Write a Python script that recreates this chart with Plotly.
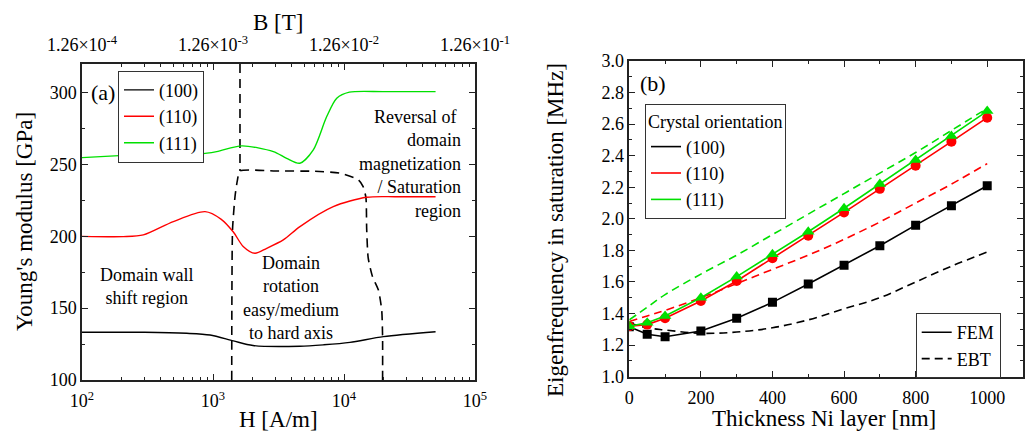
import plotly.graph_objects as go

# ---------------- Panel (a) data ----------------
H_100 = [100, 300, 630, 950, 1430, 2020, 4600, 7000, 11100, 20000, 50000]
E_100 = [133.2, 133.2, 132.5, 131.3, 127.2, 124.0, 123.5, 124.5, 126.2, 130.2, 133.6]

H_110 = [100, 207, 294, 498, 870, 1150, 1430, 1700, 2090, 2570, 3440, 4610, 8280, 14900, 25000, 50000]
E_110 = [200, 199.8, 201, 210.3, 217.2, 212, 203, 193, 188.2, 191.7, 197.5, 206.8, 220.7, 227.2, 227.6, 227.6]

H_111 = [100, 246, 443, 795, 1066, 1660, 2890, 3650, 4600, 5830, 7380, 8800, 11000, 20000, 50000]
E_111 = [254.8, 256.7, 257.9, 257.4, 259, 263, 259, 254.3, 250.9, 260.2, 283.4, 296.2, 300.4, 300.8, 300.8]

H_bound_top = [1607, 1607]
E_bound_top = [320, 245.5]
H_bound = [1390, 1393, 1410, 1472, 1535, 1607, 3000, 6000, 9300, 12900, 14000, 14700, 14900, 15300, 16500, 18300, 19400, 19700, 19700]
E_bound = [100, 150, 205, 227.6, 239, 245.5, 245.5, 245.3, 244, 239.3, 234.6, 227, 205, 185, 172, 162.7, 148.7, 130, 100]

H_ticks = [100, 1000, 10000, 100000]
H_ticktext = ["10<sup>2</sup>", "10<sup>3</sup>", "10<sup>4</sup>", "10<sup>5</sup>"]
B_ticktext = ["1.26×10<sup>-4</sup>", "1.26×10<sup>-3</sup>", "1.26×10<sup>-2</sup>", "1.26×10<sup>-1</sup>"]

# ---------------- Panel (b) data ----------------
t_fem = [0, 50, 100, 200, 300, 400, 500, 600, 700, 800, 900, 1000]
f_fem_100 = [1.317, 1.269, 1.253, 1.29, 1.37, 1.471, 1.587, 1.706, 1.83, 1.96, 2.083, 2.21]
f_fem_110 = [1.32, 1.33, 1.37, 1.48, 1.606, 1.75, 1.893, 2.041, 2.19, 2.337, 2.489, 2.641]
f_fem_111 = [1.32, 1.342, 1.385, 1.5, 1.634, 1.775, 1.918, 2.067, 2.22, 2.373, 2.525, 2.683]

t_ebt = [0, 50, 100, 200, 300, 400, 500, 600, 700, 800, 900, 1000]
f_ebt_100 = [1.34, 1.31, 1.296, 1.275, 1.283, 1.31, 1.36, 1.43, 1.50, 1.60, 1.70, 1.79]
f_ebt_110 = [1.35, 1.385, 1.42, 1.50, 1.59, 1.68, 1.77, 1.87, 1.98, 2.10, 2.22, 2.35]
f_ebt_111 = [1.36, 1.44, 1.52, 1.65, 1.77, 1.90, 2.03, 2.16, 2.29, 2.42, 2.56, 2.70]

orient_names = ["(100)", "(110)", "(111)"]
colors = ["#000000", "#ff0000", "#00e000"]

FONT = "Liberation Serif"
AX = "#222222"

fig = go.Figure()

# ---- panel (a) traces ----
fig.add_trace(go.Scatter(x=H_bound_top, y=E_bound_top, mode="lines", xaxis="x", yaxis="y",
                         line=dict(color="black", width=1.6, dash="9px,6px"), showlegend=False))
fig.add_trace(go.Scatter(x=H_bound, y=E_bound, mode="lines", xaxis="x", yaxis="y",
                         line=dict(color="black", width=1.6, dash="9px,6px", shape="spline", smoothing=0.6),
                         showlegend=False))
for H, E, name, c in [(H_100, E_100, orient_names[0], colors[0]),
                      (H_110, E_110, orient_names[1], colors[1]),
                      (H_111, E_111, orient_names[2], colors[2])]:
    fig.add_trace(go.Scatter(x=H, y=E, mode="lines", name=name, xaxis="x", yaxis="y",
                             line=dict(color=c, width=1.4, shape="spline", smoothing=0.8),
                             legend="legend"))
# invisible trace so the top B axis is drawn
fig.add_trace(go.Scatter(x=H_ticks, y=[None] * len(H_ticks), mode="markers", xaxis="x3", yaxis="y",
                         marker=dict(opacity=0), showlegend=False, hoverinfo="skip"))

# ---- panel (b) traces ----
for f, c in [(f_ebt_100, colors[0]), (f_ebt_110, colors[1]), (f_ebt_111, colors[2])]:
    fig.add_trace(go.Scatter(x=t_ebt, y=f, mode="lines", xaxis="x2", yaxis="y2",
                             line=dict(color=c, width=1.6, dash="8px,5px", shape="spline"),
                             showlegend=False))
symbols = ["square", "circle", "triangle-up"]
msizes = [9, 10, 11]
for f, c, s, ms in zip([f_fem_100, f_fem_110, f_fem_111], colors, symbols, msizes):
    fig.add_trace(go.Scatter(x=t_fem, y=f, mode="lines+markers", xaxis="x2", yaxis="y2",
                             line=dict(color=c, width=1.6),
                             marker=dict(symbol=s, size=ms, color=c),
                             showlegend=False))
# legend entries for panel (b)
for name, c in zip(orient_names, colors):
    fig.add_trace(go.Scatter(x=[None], y=[None], mode="lines", name=name, xaxis="x2", yaxis="y2",
                             line=dict(color=c, width=1.6), legend="legend2"))
fig.add_trace(go.Scatter(x=[None], y=[None], mode="lines", name="FEM", xaxis="x2", yaxis="y2",
                         line=dict(color="black", width=1.6), legend="legend3"))
fig.add_trace(go.Scatter(x=[None], y=[None], mode="lines", name="EBT", xaxis="x2", yaxis="y2",
                         line=dict(color="black", width=1.6, dash="8px,5px"), legend="legend3"))

W, Hh = 1028, 432
def px(x): return x / W
def py(y): return 1 - y / Hh

tickfont = dict(family=FONT, size=18, color="black")
common = dict(showline=True, linecolor=AX, linewidth=1.5, mirror="ticks", ticks="inside",
              ticklen=6, tickwidth=1.3, tickcolor=AX, showgrid=False, zeroline=False,
              tickfont=tickfont, automargin=False)

minor_log = [m * 10 ** e for e in (2, 3, 4) for m in range(2, 10)]

fig.update_layout(
    template="none",
    width=W, height=Hh, margin=dict(l=0, r=0, t=0, b=0, autoexpand=False),
    paper_bgcolor="white", plot_bgcolor="white",
    font=dict(family=FONT, size=18, color="black"),
    xaxis=dict(domain=[px(82), px(475)], type="log", range=[2, 5], anchor="y",
               tickmode="array", tickvals=H_ticks, ticktext=H_ticktext, ticklabelstandoff=4,
               minor=dict(tickmode="array", tickvals=minor_log, ticks="inside", ticklen=3,
                          tickcolor=AX, showgrid=False), **common),
    yaxis=dict(domain=[py(380), py(64)], range=[100, 320], anchor="x",
               tickmode="linear", tick0=100, dtick=50,
               minor=dict(dtick=25, ticks="inside", ticklen=3, tickcolor=AX, showgrid=False),
               **common),
    xaxis3=dict(overlaying="x", anchor="y", side="top", type="log", range=[2, 5],
                tickmode="array", tickvals=H_ticks, ticktext=B_ticktext, ticklabelstandoff=8,
                showline=False, ticks="", showgrid=False, zeroline=False, tickfont=tickfont,
                automargin=False),
    xaxis2=dict(domain=[px(629.3), px(1023)], range=[0, 1100], anchor="y2",
                tickmode="linear", tick0=0, dtick=200, ticklabelstandoff=4,
                minor=dict(dtick=100, ticks="inside", ticklen=3, tickcolor=AX, showgrid=False),
                **common),
    yaxis2=dict(domain=[py(376.7), py(61)], range=[1.0, 3.0], anchor="x2",
                tickmode="linear", tick0=1.0, dtick=0.2, tickformat=".1f",
                minor=dict(dtick=0.1, ticks="inside", ticklen=3, tickcolor=AX, showgrid=False),
                **common),
    legend=dict(x=px(118), y=py(70.7), xanchor="left", yanchor="top",
                bordercolor="#333", borderwidth=1, bgcolor="white",
                font=dict(family=FONT, size=18, color="black"), tracegroupgap=0),
    legend2=dict(x=px(645), y=py(104), xanchor="left", yanchor="top",
                 bordercolor="#333", borderwidth=1, bgcolor="white",
                 title=dict(text="Crystal orientation", font=dict(family=FONT, size=18, color="black")),
                 font=dict(family=FONT, size=18, color="black")),
    legend3=dict(x=px(915.7), y=py(313), xanchor="left", yanchor="top",
                 bordercolor="#333", borderwidth=1, bgcolor="white",
                 font=dict(family=FONT, size=18, color="black")),
)

ann = []
def A(text, x, y, size=18, xanchor="center", yanchor="middle", align="center", angle=0):
    ann.append(dict(text=text, x=px(x), y=py(y), xref="paper", yref="paper", showarrow=False,
                    xanchor=xanchor, yanchor=yanchor, align=align, textangle=angle,
                    font=dict(family=FONT, size=size, color="black")))

A("(a)", 103, 92, size=22)
A("(b)", 653, 83, size=22)
A("Domain wall<br>shift region", 146, 286)
A("Domain<br>rotation<br>easy/medium<br>to hard axis", 291, 298)
A("Reversal of\u00a0<br>domain<br>magnetization<br>/ Saturation<br>region", 463, 163.5,
  xanchor="right", align="right")
A("Young's modulus [GPa]", 25, 222, size=23, angle=-90)
A("H [A/m]", 278, 419, size=23)
A("B [T]", 278, 22, size=23)
A("Eigenfrequency in saturation [MHz]", 555, 230, size=23, angle=-90)
A("Thickness Ni layer [nm]", 824, 418, size=23)
fig.update_layout(annotations=ann)

fig.write_html("out.html")
